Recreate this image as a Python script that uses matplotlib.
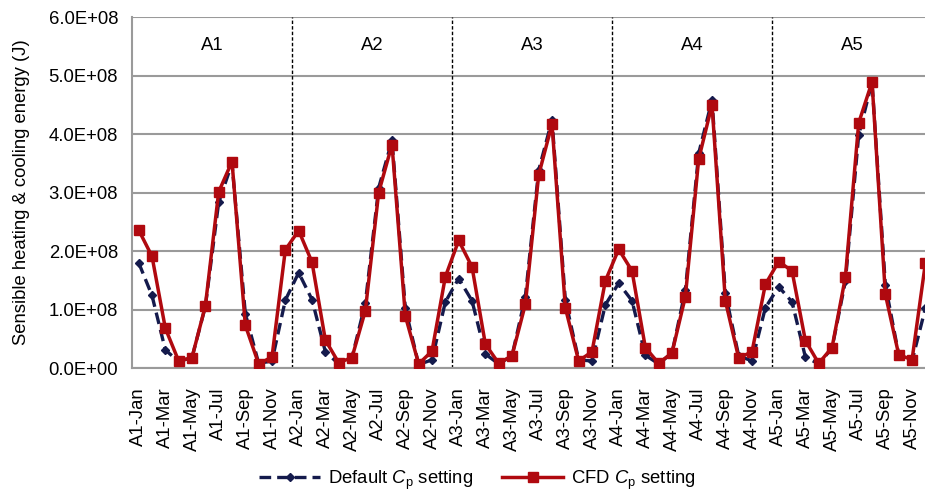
import numpy as np
import matplotlib
matplotlib.use("Agg")
import matplotlib.pyplot as plt

plt.rcParams['font.family'] = ['Liberation Sans', 'DejaVu Sans']
plt.rcParams['mathtext.fontset'] = 'custom'
plt.rcParams['mathtext.rm'] = 'Liberation Sans'
plt.rcParams['mathtext.it'] = 'Liberation Sans:italic'

# DATA (values in units of 1E+08 J)
areas = ["A1", "A2", "A3", "A4", "A5"]
months = ["Jan", "Feb", "Mar", "Apr", "May", "Jun",
          "Jul", "Aug", "Sep", "Oct", "Nov", "Dec"]

default_cp = [
    1.80, 1.24, 0.31, 0.11, 0.18, 1.05, 2.83, 3.50, 0.93, 0.08, 0.12, 1.16,   # A1
    1.63, 1.17, 0.28, 0.07, 0.18, 1.11, 3.08, 3.89, 1.02, 0.06, 0.14, 1.13,   # A2
    1.53, 1.15, 0.24, 0.07, 0.21, 1.22, 3.38, 4.24, 1.16, 0.14, 0.12, 1.08,   # A3
    1.45, 1.15, 0.22, 0.07, 0.26, 1.33, 3.67, 4.58, 1.28, 0.21, 0.12, 1.03,   # A4
    1.39, 1.13, 0.19, 0.07, 0.34, 1.48, 3.98, 4.89, 1.42, 0.23, 0.12, 1.02,   # A5
]
cfd_cp = [
    2.36, 1.91, 0.68, 0.12, 0.18, 1.06, 3.01, 3.53, 0.73, 0.07, 0.19, 2.02,   # A1
    2.35, 1.81, 0.48, 0.09, 0.18, 0.98, 3.00, 3.82, 0.89, 0.07, 0.29, 1.56,   # A2
    2.18, 1.73, 0.41, 0.08, 0.21, 1.09, 3.30, 4.17, 1.03, 0.12, 0.28, 1.49,   # A3
    2.03, 1.66, 0.35, 0.08, 0.26, 1.22, 3.57, 4.50, 1.15, 0.17, 0.28, 1.43,   # A4
    1.82, 1.66, 0.47, 0.08, 0.35, 1.55, 4.19, 4.89, 1.26, 0.23, 0.14, 1.79,   # A5
]

categories = [f"{a}-{m}" for a in areas for m in months]
x = np.arange(len(categories))
default_cp = np.array(default_cp) * 1e8
cfd_cp = np.array(cfd_cp) * 1e8

fs = 13.3
fig = plt.figure(figsize=(9.25, 4.96), dpi=100)
ax = fig.add_axes([0.1427, 0.258, 0.8649, 0.7077])

navy = "#141a4c"
red = "#b0090f"
grid_c = "#9a9a9a"

# gridlines
for v in np.arange(0, 7) * 1e8:
    ax.axhline(v, color=grid_c, lw=1.5, zorder=0)

# area separators
for k in range(1, len(areas)):
    ax.axvline(12 * k - 0.5, color="black", lw=1.0, ls=(0, (2.5, 1.5)), zorder=1)

# area labels in the top band
for k, a in enumerate(areas):
    ax.text(12 * k + 5.5, 5.52e8, a, ha="center", va="center", fontsize=fs)

ax.plot(x, default_cp, color=navy, lw=2.4, ls=(0, (3.5, 1.8)),
        marker="D", ms=4.5, mfc=navy, mec=navy, zorder=3,
        label=r"Default $\mathit{C}_\mathrm{p}$ setting")
ax.plot(x, cfd_cp, color=red, lw=2.5, marker="s", ms=6.5,
        mfc=red, mec=red, zorder=4,
        label=r"CFD $\mathit{C}_\mathrm{p}$ setting")

ax.set_xlim(-0.5, len(categories) - 0.5)
ax.set_ylim(0, 6e8)
ax.set_yticks(np.arange(0, 7) * 1e8)
ax.set_yticklabels([f"{v:.1f}E+{'00' if v == 0 else '08'}" for v in np.arange(0, 7)],
                   fontsize=fs)
ax.set_xticks(x[::2])
ax.set_xticklabels(categories[::2], rotation=90, fontsize=fs)
ax.tick_params(axis="x", length=0, pad=14)
ax.tick_params(axis="y", length=0, pad=10)

for s in ["top", "right"]:
    ax.spines[s].set_visible(False)
ax.spines["left"].set_color(grid_c)
ax.spines["bottom"].set_color(grid_c)
ax.spines["left"].set_linewidth(1.5)
ax.spines["bottom"].set_linewidth(1.5)

ax.set_ylabel("Sensible heating & cooling energy (J)", fontsize=fs, labelpad=13)

fig.legend(loc="center", bbox_to_anchor=(0.516, 0.032), ncol=2, frameon=False,
           fontsize=fs, handlelength=3.3, columnspacing=1.6, handletextpad=0.4)

fig.savefig("out.png", dpi=100)
